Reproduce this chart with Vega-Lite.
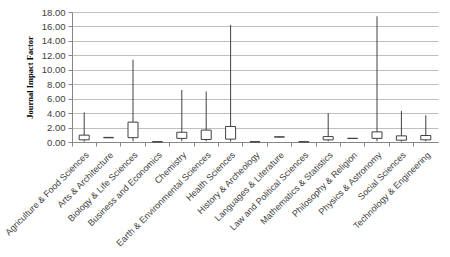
{
  "$schema": "https://vega.github.io/schema/vega-lite/v6.json",
  "width": 366,
  "height": 130,
  "autosize": {"type": "none"},
  "padding": {"left": 72, "top": 12, "right": 12, "bottom": 115},
  "background": "white",
  "config": {
    "view": {"stroke": null},
    "font": "Liberation Sans"
  },
  "data": {
    "values": [
      {"field": "Agriculture & Food Sciences", "min": 0.05, "q1": 0.3, "q3": 0.95, "max": 4.1},
      {"field": "Arts & Architecture", "min": 0.55, "q1": 0.58, "q3": 0.64, "max": 0.66},
      {"field": "Biology & Life Sciences", "min": 0.1, "q1": 0.6, "q3": 2.75, "max": 11.4},
      {"field": "Business and Economics", "min": 0.0, "q1": 0.01, "q3": 0.04, "max": 0.05},
      {"field": "Chemistry", "min": 0.1, "q1": 0.5, "q3": 1.35, "max": 7.2},
      {"field": "Earth & Environmental Sciences", "min": 0.1, "q1": 0.35, "q3": 1.65, "max": 7.0},
      {"field": "Health Sciences", "min": 0.05, "q1": 0.4, "q3": 2.15, "max": 16.2},
      {"field": "History & Archeology", "min": 0.0, "q1": 0.01, "q3": 0.04, "max": 0.05},
      {"field": "Languages & Literature", "min": 0.65, "q1": 0.68, "q3": 0.72, "max": 0.75},
      {"field": "Law and Political Sciences", "min": 0.0, "q1": 0.01, "q3": 0.04, "max": 0.05},
      {"field": "Mathematics & Statistics", "min": 0.1, "q1": 0.3, "q3": 0.75, "max": 4.0},
      {"field": "Philosophy & Religion", "min": 0.45, "q1": 0.48, "q3": 0.52, "max": 0.55},
      {"field": "Physics & Astronomy", "min": 0.1, "q1": 0.5, "q3": 1.4, "max": 17.4},
      {"field": "Social Sciences", "min": 0.05, "q1": 0.25, "q3": 0.85, "max": 4.3},
      {"field": "Technology & Engineering", "min": 0.1, "q1": 0.3, "q3": 0.9, "max": 3.7}
    ]
  },
  "encoding": {
    "x": {
      "field": "field",
      "type": "nominal",
      "sort": null,
      "scale": {"paddingInner": 0, "paddingOuter": 0},
      "axis": {
        "title": null,
        "bandPosition": 0,
        "labelOffset": 3,
        "labelAngle": -45,
        "labelAlign": "right",
        "labelBaseline": "middle",
        "labelFontSize": 9,
        "labelColor": "#404040",
        "labelPadding": 7,
        "labelOverlap": false,
        "labelLimit": 300,
        "domainColor": "#868686",
        "tickColor": "#868686",
        "tickSize": 4,
        "grid": false
      }
    }
  },
  "layer": [
    {
      "mark": {"type": "rule", "color": "#404040", "strokeWidth": 1},
      "encoding": {
        "y": {
          "field": "min",
          "type": "quantitative",
          "scale": {"domain": [0, 18], "nice": false},
          "axis": {
            "title": "Journal Impact Factor",
            "values": [0, 2, 4, 6, 8, 10, 12, 14, 16, 18],
            "tickCount": 20,
            "format": ".2f",
            "labelOverlap": false,
            "labelFontSize": 9.5,
            "labelColor": "#404040",
            "labelPadding": 3,
            "domainColor": "#868686",
            "tickColor": "#868686",
            "tickSize": 4,
            "grid": true,
            "gridColor": "#bfbfbf",
            "gridWidth": 1,
            "titleFont": "Liberation Serif",
            "titleFontWeight": "bold",
            "titleFontSize": 8.5,
            "titleColor": "#000000",
            "titlePadding": 7
          }
        },
        "y2": {"field": "max"}
      }
    },
    {
      "mark": {"type": "bar", "fill": "white", "stroke": "#404040", "strokeWidth": 1, "size": 10},
      "encoding": {
        "y": {"field": "q1", "type": "quantitative"},
        "y2": {"field": "q3"}
      }
    }
  ]
}
